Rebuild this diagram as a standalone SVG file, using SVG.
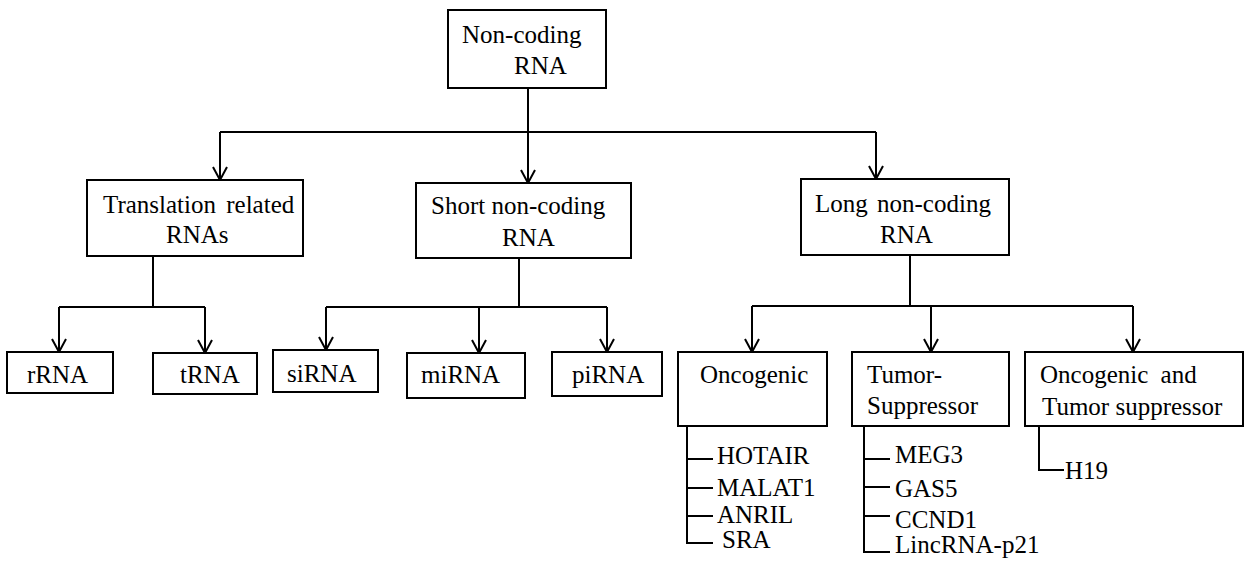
<svg xmlns="http://www.w3.org/2000/svg" width="1248" height="563" viewBox="0 0 1248 563" font-family="'Liberation Serif', 'Times New Roman', Times, 'DejaVu Serif', serif">
<style>
.box{fill:#fff;stroke:#000;stroke-width:2}
.t{font-family:'Liberation Serif', 'Times New Roman', Times, 'DejaVu Serif', serif;font-size:25px;fill:#000}
.c{fill:none;stroke:#000;stroke-width:2}
</style>
<defs>
<marker id="arr" viewBox="0 0 16 16" refX="14" refY="8" markerWidth="16" markerHeight="16" orient="auto" markerUnits="userSpaceOnUse">
<path d="M1,1 L14,8 L1,15" fill="none" stroke="#000" stroke-width="2"/>
</marker>
</defs>
<rect width="1248" height="563" fill="#fff"/>
<g id="connectors" class="c">
<path d="M528,88 V132 M220,132 H876"/>
<path d="M220,132 V180" marker-end="url(#arr)"/>
<path d="M528,132 V183" marker-end="url(#arr)"/>
<path d="M876,132 V179" marker-end="url(#arr)"/>
<path d="M153,256 V307 M59,307 H205"/>
<path d="M59,307 V352" marker-end="url(#arr)"/>
<path d="M205,307 V353" marker-end="url(#arr)"/>
<path d="M519,258 V307 M326,307 H607"/>
<path d="M326,307 V350" marker-end="url(#arr)"/>
<path d="M479,307 V353" marker-end="url(#arr)"/>
<path d="M607,307 V352" marker-end="url(#arr)"/>
<path d="M910,255 V306 M752,306 H1133"/>
<path d="M752,306 V352" marker-end="url(#arr)"/>
<path d="M931,306 V352" marker-end="url(#arr)"/>
<path d="M1133,306 V352" marker-end="url(#arr)"/>
<path d="M687,426 V543 H713 M687,459 H713 M687,488 H713 M687,516 H713"/>
<path d="M864,426 V552 H890 M864,459 H890 M864,487 H890 M864,516 H890"/>
<path d="M1039,426 V470 H1064"/>
</g>
<g id="root"><rect class="box" x="448" y="10" width="158" height="78"/><text class="t" x="462" y="43">Non-coding</text><text class="t" x="514" y="74">RNA</text></g>
<g id="translation"><rect class="box" x="87" y="180" width="216" height="76"/><text class="t" x="103" y="213" word-spacing="4">Translation related</text><text class="t" x="166" y="243">RNAs</text></g>
<g id="short"><rect class="box" x="416" y="183" width="215" height="75"/><text class="t" x="431" y="214">Short non-coding</text><text class="t" x="502" y="246">RNA</text></g>
<g id="long"><rect class="box" x="801" y="179" width="208" height="76"/><text class="t" x="815" y="212" word-spacing="3">Long non-coding</text><text class="t" x="880" y="243">RNA</text></g>
<g id="rrna"><rect class="box" x="7" y="352" width="106" height="41"/><text class="t" x="27" y="383">rRNA</text></g>
<g id="trna"><rect class="box" x="153" y="353" width="104" height="41"/><text class="t" x="180" y="383">tRNA</text></g>
<g id="sirna"><rect class="box" x="273" y="350" width="105" height="42"/><text class="t" x="287" y="382">siRNA</text></g>
<g id="mirna"><rect class="box" x="407" y="353" width="118" height="45"/><text class="t" x="421" y="383">miRNA</text></g>
<g id="pirna"><rect class="box" x="552" y="352" width="110" height="44"/><text class="t" x="572" y="383">piRNA</text></g>
<g id="oncogenic"><rect class="box" x="678" y="352" width="149" height="74"/><text class="t" x="700" y="383">Oncogenic</text></g>
<g id="tumor"><rect class="box" x="852" y="352" width="157" height="74"/><text class="t" x="867" y="383">Tumor-</text><text class="t" x="867" y="414">Suppressor</text></g>
<g id="both"><rect class="box" x="1025" y="352" width="218" height="74"/><text class="t" x="1040" y="383" word-spacing="6">Oncogenic and</text><text class="t" x="1042" y="415">Tumor suppressor</text></g>
<g id="onc-list"><text class="t" x="717" y="464">HOTAIR</text><text class="t" x="717" y="496">MALAT1</text><text class="t" x="717" y="523">ANRIL</text><text class="t" x="722" y="548">SRA</text></g>
<g id="ts-list"><text class="t" x="895" y="463">MEG3</text><text class="t" x="895" y="497">GAS5</text><text class="t" x="895" y="528">CCND1</text><text class="t" x="895" y="553">LincRNA-p21</text></g>
<g id="both-list"><text class="t" x="1065" y="479">H19</text></g>
</svg>
